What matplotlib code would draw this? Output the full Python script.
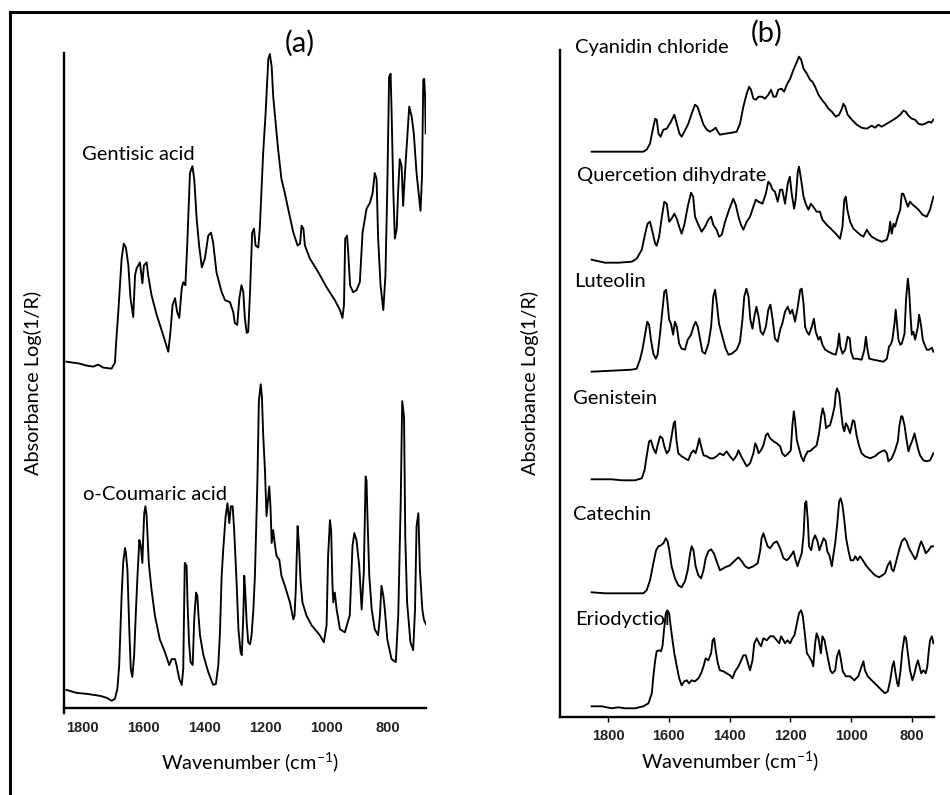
import matplotlib
matplotlib.use('Agg')
import matplotlib.pyplot as plt
from matplotlib.lines import Line2D

plt.rcParams['font.family'] = ['Lato', 'DejaVu Sans']

# ---- panel (a): wavenumber (cm-1) and relative absorbance ----
gentisic_wn = [1854, 1810, 1788, 1766, 1750, 1733, 1706, 1695, 1690, 1684, 1673, 1666, 1659, 1651,
               1644, 1635, 1629, 1624, 1613, 1605, 1600, 1591, 1586, 1575, 1558, 1537, 1520, 1513,
               1506, 1498, 1491, 1484, 1476, 1471, 1464, 1458, 1449, 1441, 1435, 1427, 1419, 1410,
               1400, 1389, 1380, 1373, 1362, 1345, 1334, 1318, 1307, 1302, 1294, 1287, 1280, 1274,
               1269, 1263, 1258, 1252, 1245, 1239, 1234, 1225, 1220, 1209, 1201, 1192, 1187, 1181,
               1176, 1168, 1160, 1149, 1138, 1127, 1110, 1096, 1088, 1083, 1077, 1072, 1056, 1028,
               1001, 974, 957, 949, 944, 940, 934, 930, 924, 914, 903, 892, 883, 870, 859, 850, 843,
               837, 832, 824, 815, 808, 802, 796, 791, 788, 782, 777, 771, 766, 761, 755, 750, 744,
               739, 730, 722, 715, 706, 697, 693, 688, 684, 681, 678, 676]
gentisic_abs = [0.03, 0.01, -0.01, -0.02, 0.0, -0.03, -0.04, 0.02, 0.27, 0.53, 1.07, 1.22, 1.18, 1.00,
                0.67, 0.48, 0.90, 0.97, 1.03, 0.82, 1.00, 1.03, 0.90, 0.70, 0.50, 0.30, 0.13, 0.33,
                0.60, 0.67, 0.53, 0.47, 0.77, 0.83, 0.80, 1.20, 1.93, 2.00, 1.87, 1.47, 1.20, 0.98,
                1.07, 1.30, 1.33, 1.23, 0.93, 0.73, 0.65, 0.63, 0.53, 0.42, 0.40, 0.67, 0.80, 0.73,
                0.47, 0.32, 0.33, 0.73, 1.33, 1.37, 1.20, 1.18, 1.37, 2.13, 2.53, 3.08, 3.13, 3.00,
                2.70, 2.43, 2.17, 1.87, 1.73, 1.57, 1.33, 1.20, 1.22, 1.40, 1.37, 1.20, 1.07, 0.93,
                0.78, 0.65, 0.55, 0.47, 0.60, 1.27, 1.30, 1.13, 0.80, 0.73, 0.75, 0.83, 1.33, 1.57,
                1.63, 1.73, 1.93, 1.87, 1.27, 0.80, 0.55, 0.90, 1.77, 2.90, 2.93, 2.57, 1.73, 1.27,
                1.37, 1.77, 2.07, 2.00, 1.60, 1.93, 2.17, 2.60, 2.50, 2.33, 1.93, 1.67, 1.55, 1.90,
                2.87, 2.88, 2.70, 2.33]

coumaric_wn = [1854, 1821, 1788, 1766, 1744, 1722, 1706, 1695, 1687, 1681, 1673, 1668, 1662, 1659,
               1654, 1648, 1643, 1638, 1632, 1626, 1621, 1615, 1610, 1605, 1602, 1599, 1595, 1591,
               1584, 1575, 1564, 1548, 1531, 1517, 1509, 1498, 1493, 1484, 1476, 1471, 1466, 1460,
               1457, 1452, 1447, 1440, 1435, 1429, 1425, 1421, 1416, 1405, 1389, 1373, 1364, 1356,
               1351, 1345, 1340, 1332, 1326, 1320, 1315, 1309, 1304, 1296, 1290, 1283, 1279, 1274,
               1271, 1268, 1263, 1258, 1252, 1247, 1241, 1236, 1228, 1223, 1217, 1213, 1209, 1203,
               1198, 1192, 1189, 1185, 1181, 1176, 1170, 1165, 1156, 1149, 1138, 1121, 1110, 1106,
               1102, 1096, 1092, 1086, 1080, 1067, 1050, 1039, 1023, 1010, 1001, 996, 990, 986, 982,
               979, 974, 968, 957, 941, 925, 916, 910, 903, 894, 886, 879, 873, 870, 867, 861, 853,
               843, 832, 826, 821, 815, 810, 802, 788, 774, 766, 758, 753, 747, 743, 737, 726, 717,
               711, 706, 700, 695, 687, 682, 675]
coumaric_abs = [0.02, -0.01, -0.02, -0.03, -0.04, -0.06, -0.09, -0.07, 0.03, 0.27, 0.97, 1.30, 1.45,
                1.40, 1.23, 0.63, 0.23, 0.15, 0.37, 0.83, 1.17, 1.53, 1.47, 1.30, 1.57, 1.80, 1.87,
                1.77, 1.30, 1.03, 0.77, 0.53, 0.40, 0.27, 0.33, 0.33, 0.27, 0.13, 0.07, 0.23, 1.30,
                1.27, 0.90, 0.50, 0.30, 0.27, 0.73, 1.00, 0.97, 0.77, 0.57, 0.37, 0.20, 0.07, 0.08,
                0.27, 0.57, 1.17, 1.43, 1.77, 1.90, 1.70, 1.87, 1.87, 1.63, 1.10, 0.63, 0.40, 0.37,
                0.77, 1.17, 1.03, 0.70, 0.50, 0.48, 0.57, 0.83, 1.17, 2.10, 2.93, 3.10, 2.97, 2.60,
                2.23, 1.77, 1.97, 2.07, 1.87, 1.50, 1.63, 1.47, 1.37, 1.33, 1.17, 1.07, 0.90, 0.73,
                0.77, 1.03, 1.67, 1.50, 1.10, 0.90, 0.77, 0.67, 0.63, 0.57, 0.50, 0.67, 1.37, 1.73,
                1.63, 1.10, 0.90, 1.00, 0.83, 0.63, 0.60, 0.77, 1.47, 1.60, 1.53, 1.27, 0.83, 1.20,
                2.17, 2.13, 1.77, 1.17, 0.83, 0.63, 0.57, 0.77, 1.07, 0.97, 0.83, 0.53, 0.33, 0.30,
                0.77, 1.90, 2.93, 2.77, 1.57, 0.90, 0.50, 0.42, 0.83, 1.67, 1.80, 1.23, 0.83, 0.73,
                0.68]

# ---- panel (b) ----
cyanidin_wn = [1854, 1766, 1684, 1673, 1662, 1653, 1645, 1640, 1634, 1627, 1618, 1607, 1593, 1582,
               1574, 1565, 1558, 1549, 1536, 1525, 1514, 1506, 1497, 1486, 1475, 1465, 1454, 1446,
               1439, 1432, 1415, 1393, 1377, 1366, 1355, 1344, 1336, 1330, 1322, 1314, 1305, 1294,
               1284, 1273, 1264, 1256, 1248, 1240, 1229, 1221, 1212, 1201, 1190, 1179, 1172, 1165,
               1157, 1146, 1136, 1128, 1119, 1108, 1097, 1086, 1075, 1064, 1051, 1040, 1031, 1026,
               1020, 1012, 998, 982, 966, 949, 933, 922, 911, 900, 889, 872, 856, 839, 829, 821,
               812, 801, 790, 779, 768, 757, 746, 737, 730]
cyanidin_abs = [0, 0, 0, 0.02, 0.08, 0.22, 0.33, 0.32, 0.18, 0.15, 0.22, 0.23, 0.30, 0.37, 0.28,
                0.18, 0.15, 0.20, 0.28, 0.38, 0.47, 0.45, 0.37, 0.27, 0.22, 0.20, 0.22, 0.24, 0.20,
                0.17, 0.18, 0.19, 0.20, 0.28, 0.45, 0.58, 0.65, 0.62, 0.53, 0.52, 0.55, 0.55, 0.53,
                0.57, 0.62, 0.55, 0.55, 0.62, 0.63, 0.60, 0.67, 0.73, 0.82, 0.90, 0.95, 0.92, 0.83,
                0.78, 0.72, 0.70, 0.65, 0.57, 0.52, 0.48, 0.43, 0.40, 0.35, 0.37, 0.43, 0.48, 0.45,
                0.37, 0.32, 0.27, 0.24, 0.23, 0.26, 0.24, 0.27, 0.25, 0.27, 0.30, 0.33, 0.37, 0.41,
                0.40, 0.36, 0.33, 0.32, 0.28, 0.27, 0.28, 0.30, 0.29, 0.32]

quercetin_wn = [1854, 1810, 1766, 1722, 1706, 1689, 1678, 1670, 1662, 1654, 1645, 1640, 1632, 1623,
                1615, 1607, 1599, 1591, 1582, 1574, 1566, 1558, 1549, 1538, 1527, 1520, 1514, 1503,
                1492, 1481, 1470, 1461, 1454, 1443, 1435, 1426, 1415, 1402, 1388, 1380, 1371, 1363,
                1355, 1344, 1333, 1322, 1314, 1305, 1292, 1281, 1273, 1267, 1259, 1251, 1242, 1234,
                1227, 1218, 1209, 1202, 1196, 1188, 1183, 1176, 1172, 1165, 1157, 1150, 1141, 1133,
                1125, 1114, 1103, 1095, 1081, 1064, 1048, 1037, 1029, 1023, 1018, 1013, 1004, 993,
                982, 971, 960, 949, 941, 933, 916, 900, 883, 876, 872, 867, 861, 856, 847, 839, 834,
                829, 823, 814, 807, 798, 790, 779, 766, 752, 741, 730]
quercetin_abs = [0.02, -0.01, -0.01, 0, 0.03, 0.12, 0.28, 0.38, 0.40, 0.30, 0.18, 0.16, 0.25, 0.45,
                 0.60, 0.58, 0.40, 0.43, 0.48, 0.43, 0.35, 0.28, 0.37, 0.55, 0.69, 0.65, 0.45, 0.37,
                 0.30, 0.35, 0.42, 0.45, 0.37, 0.32, 0.25, 0.27, 0.40, 0.52, 0.63, 0.57, 0.45, 0.37,
                 0.32, 0.40, 0.45, 0.55, 0.62, 0.60, 0.58, 0.68, 0.80, 0.78, 0.72, 0.70, 0.60, 0.72,
                 0.72, 0.58, 0.78, 0.85, 0.68, 0.53, 0.62, 0.90, 0.95, 0.82, 0.65, 0.58, 0.52, 0.58,
                 0.55, 0.50, 0.50, 0.42, 0.37, 0.32, 0.27, 0.23, 0.35, 0.62, 0.65, 0.52, 0.40, 0.33,
                 0.30, 0.27, 0.25, 0.32, 0.28, 0.25, 0.22, 0.20, 0.22, 0.30, 0.40, 0.28, 0.38, 0.35,
                 0.45, 0.52, 0.68, 0.68, 0.63, 0.55, 0.60, 0.57, 0.55, 0.52, 0.47, 0.45, 0.52, 0.65]

luteolin_wn = [1854, 1788, 1722, 1706, 1695, 1687, 1678, 1671, 1665, 1659, 1651, 1643, 1637, 1629,
               1621, 1615, 1609, 1604, 1599, 1593, 1586, 1580, 1574, 1566, 1558, 1547, 1538, 1527,
               1519, 1512, 1505, 1497, 1490, 1481, 1470, 1461, 1454, 1448, 1443, 1435, 1424, 1413,
               1404, 1393, 1377, 1366, 1358, 1352, 1345, 1338, 1332, 1325, 1319, 1312, 1305, 1298,
               1290, 1281, 1273, 1266, 1259, 1251, 1242, 1234, 1227, 1218, 1209, 1201, 1194, 1185,
               1176, 1168, 1163, 1157, 1152, 1146, 1139, 1130, 1123, 1117, 1108, 1102, 1095, 1086,
               1075, 1062, 1051, 1045, 1040, 1036, 1029, 1020, 1012, 1005, 1001, 993, 982, 966, 957,
               952, 947, 941, 927, 911, 894, 883, 876, 869, 865, 858, 854, 849, 845, 839, 834, 825,
               820, 814, 810, 805, 801, 796, 790, 781, 777, 770, 765, 759, 752, 744, 735, 730]
luteolin_abs = [0, 0.01, 0.02, 0.03, 0.12, 0.22, 0.38, 0.50, 0.47, 0.32, 0.18, 0.13, 0.17, 0.38,
                0.62, 0.80, 0.82, 0.68, 0.52, 0.48, 0.37, 0.50, 0.45, 0.28, 0.23, 0.22, 0.32, 0.37,
                0.45, 0.50, 0.45, 0.32, 0.20, 0.18, 0.28, 0.45, 0.75, 0.82, 0.70, 0.48, 0.35, 0.23,
                0.17, 0.18, 0.22, 0.30, 0.52, 0.75, 0.83, 0.75, 0.52, 0.43, 0.55, 0.65, 0.55, 0.40,
                0.37, 0.45, 0.62, 0.67, 0.53, 0.33, 0.30, 0.42, 0.48, 0.60, 0.65, 0.58, 0.62, 0.50,
                0.65, 0.82, 0.83, 0.68, 0.45, 0.40, 0.37, 0.45, 0.53, 0.40, 0.32, 0.35, 0.27, 0.22,
                0.20, 0.18, 0.17, 0.25, 0.38, 0.25, 0.18, 0.22, 0.35, 0.33, 0.20, 0.13, 0.13, 0.12,
                0.22, 0.35, 0.23, 0.13, 0.12, 0.11, 0.10, 0.13, 0.25, 0.28, 0.32, 0.48, 0.62, 0.45,
                0.32, 0.27, 0.28, 0.38, 0.72, 0.93, 0.82, 0.55, 0.37, 0.40, 0.32, 0.45, 0.57, 0.45,
                0.32, 0.27, 0.22, 0.22, 0.24, 0.20]

genistein_wn = [1854, 1788, 1755, 1711, 1689, 1680, 1673, 1665, 1659, 1651, 1643, 1637, 1629, 1621,
                1615, 1607, 1599, 1591, 1584, 1580, 1575, 1569, 1558, 1547, 1536, 1527, 1519, 1512,
                1505, 1500, 1494, 1486, 1475, 1464, 1454, 1443, 1432, 1421, 1410, 1399, 1388, 1377,
                1371, 1364, 1355, 1344, 1333, 1322, 1316, 1311, 1305, 1297, 1289, 1281, 1275, 1267,
                1256, 1245, 1234, 1227, 1218, 1207, 1199, 1194, 1189, 1185, 1179, 1172, 1165, 1157,
                1152, 1143, 1136, 1125, 1114, 1106, 1099, 1094, 1088, 1083, 1077, 1070, 1062, 1055,
                1051, 1047, 1040, 1034, 1028, 1023, 1018, 1012, 1004, 995, 990, 982, 974, 966, 955,
                938, 922, 911, 900, 891, 883, 878, 867, 856, 847, 842, 836, 832, 825, 818, 812, 807,
                799, 792, 787, 781, 774, 763, 752, 741, 730]
genistein_abs = [0, 0, -0.01, -0.01, 0.01, 0.09, 0.23, 0.38, 0.39, 0.31, 0.26, 0.34, 0.43, 0.41,
                 0.33, 0.26, 0.29, 0.43, 0.56, 0.58, 0.39, 0.26, 0.23, 0.21, 0.19, 0.26, 0.29, 0.26,
                 0.34, 0.41, 0.33, 0.24, 0.23, 0.21, 0.21, 0.23, 0.26, 0.24, 0.28, 0.23, 0.19, 0.24,
                 0.29, 0.24, 0.19, 0.13, 0.16, 0.26, 0.36, 0.33, 0.26, 0.29, 0.34, 0.44, 0.46, 0.41,
                 0.38, 0.36, 0.33, 0.26, 0.23, 0.26, 0.29, 0.53, 0.68, 0.59, 0.39, 0.31, 0.23, 0.18,
                 0.23, 0.28, 0.28, 0.31, 0.34, 0.46, 0.63, 0.71, 0.64, 0.51, 0.53, 0.54, 0.63, 0.73,
                 0.86, 0.91, 0.86, 0.69, 0.53, 0.48, 0.56, 0.53, 0.46, 0.59, 0.58, 0.43, 0.33, 0.26,
                 0.23, 0.21, 0.23, 0.26, 0.28, 0.29, 0.26, 0.18, 0.21, 0.29, 0.38, 0.53, 0.63, 0.63,
                 0.54, 0.39, 0.28, 0.33, 0.39, 0.46, 0.39, 0.31, 0.24, 0.19, 0.18, 0.19, 0.26]

catechin_wn = [1854, 1810, 1766, 1722, 1684, 1673, 1662, 1651, 1642, 1634, 1626, 1618, 1610, 1604,
               1598, 1591, 1580, 1569, 1558, 1547, 1538, 1530, 1525, 1519, 1512, 1503, 1494, 1486,
               1479, 1470, 1461, 1452, 1443, 1432, 1415, 1399, 1382, 1371, 1360, 1349, 1338, 1322,
               1308, 1300, 1295, 1289, 1284, 1275, 1267, 1256, 1245, 1234, 1223, 1212, 1205, 1198,
               1190, 1183, 1177, 1171, 1163, 1157, 1152, 1148, 1143, 1139, 1132, 1126, 1119, 1111,
               1105, 1097, 1091, 1084, 1079, 1072, 1064, 1059, 1053, 1046, 1040, 1035, 1029, 1023,
               1017, 1009, 1002, 993, 987, 979, 971, 962, 952, 938, 922, 909, 898, 889, 880, 872,
               867, 861, 854, 843, 834, 825, 818, 810, 801, 790, 785, 776, 770, 763, 755, 746, 737,
               730]
catechin_abs = [0.01, 0, 0, 0, 0, 0.03, 0.13, 0.30, 0.43, 0.47, 0.48, 0.50, 0.55, 0.52, 0.42, 0.27,
                0.15, 0.08, 0.06, 0.12, 0.23, 0.40, 0.47, 0.43, 0.27, 0.18, 0.15, 0.23, 0.35, 0.42,
                0.44, 0.40, 0.32, 0.23, 0.26, 0.28, 0.33, 0.36, 0.32, 0.27, 0.25, 0.27, 0.30, 0.42,
                0.55, 0.60, 0.55, 0.47, 0.45, 0.50, 0.52, 0.45, 0.35, 0.33, 0.35, 0.38, 0.42, 0.33,
                0.27, 0.33, 0.40, 0.58, 0.90, 0.92, 0.73, 0.47, 0.43, 0.53, 0.58, 0.52, 0.43, 0.50,
                0.55, 0.52, 0.42, 0.38, 0.27, 0.38, 0.50, 0.70, 0.92, 0.95, 0.88, 0.73, 0.55, 0.42,
                0.33, 0.33, 0.37, 0.33, 0.37, 0.33, 0.28, 0.23, 0.18, 0.16, 0.18, 0.20, 0.28, 0.32,
                0.24, 0.22, 0.30, 0.43, 0.52, 0.55, 0.52, 0.45, 0.40, 0.34, 0.37, 0.47, 0.52, 0.47,
                0.40, 0.43, 0.47, 0.47]

eriodyctiol_wn = [1854, 1821, 1788, 1766, 1744, 1711, 1684, 1667, 1656, 1651, 1645, 1640, 1632,
                  1626, 1621, 1616, 1610, 1605, 1599, 1594, 1588, 1582, 1574, 1566, 1558, 1549,
                  1541, 1534, 1525, 1514, 1503, 1494, 1486, 1479, 1470, 1461, 1456, 1451, 1446,
                  1439, 1432, 1421, 1410, 1399, 1391, 1382, 1371, 1362, 1355, 1347, 1338, 1333,
                  1325, 1319, 1311, 1303, 1297, 1289, 1278, 1267, 1256, 1245, 1237, 1231, 1223,
                  1218, 1210, 1201, 1194, 1187, 1179, 1172, 1165, 1160, 1154, 1146, 1139, 1130,
                  1125, 1119, 1114, 1108, 1100, 1095, 1088, 1082, 1075, 1069, 1062, 1053, 1047,
                  1040, 1035, 1028, 1018, 1004, 990, 977, 966, 960, 955, 946, 933, 916, 900, 889,
                  880, 872, 865, 860, 856, 849, 845, 838, 832, 825, 820, 814, 807, 799, 792, 787,
                  781, 776, 770, 763, 755, 750, 746, 741, 735, 730]
eriodyctiol_abs = [0.01, 0.01, -0.01, 0, -0.01, -0.01, 0.01, 0.04, 0.14, 0.31, 0.47, 0.56, 0.57,
                   0.56, 0.61, 0.77, 0.94, 0.97, 0.94, 0.81, 0.67, 0.54, 0.41, 0.29, 0.22, 0.26,
                   0.27, 0.24, 0.27, 0.26, 0.29, 0.34, 0.41, 0.49, 0.47, 0.54, 0.67, 0.69, 0.57,
                   0.44, 0.37, 0.36, 0.34, 0.32, 0.29, 0.36, 0.41, 0.47, 0.52, 0.52, 0.42, 0.37,
                   0.47, 0.64, 0.69, 0.64, 0.61, 0.69, 0.67, 0.71, 0.71, 0.67, 0.64, 0.71, 0.67,
                   0.64, 0.67, 0.64, 0.69, 0.72, 0.84, 0.94, 0.97, 0.92, 0.77, 0.54, 0.51, 0.46,
                   0.41, 0.64, 0.74, 0.69, 0.54, 0.71, 0.67, 0.57, 0.46, 0.37, 0.34, 0.37, 0.51,
                   0.57, 0.49, 0.36, 0.31, 0.31, 0.27, 0.31, 0.41, 0.46, 0.37, 0.31, 0.27, 0.22,
                   0.17, 0.14, 0.16, 0.27, 0.41, 0.46, 0.37, 0.24, 0.21, 0.37, 0.57, 0.71, 0.69,
                   0.54, 0.37, 0.27, 0.34, 0.41, 0.47, 0.41, 0.34, 0.37, 0.34, 0.41, 0.54, 0.67,
                   0.71, 0.64]

tick_values = [1800, 1600, 1400, 1200, 1000, 800]

# stacking offsets (plot units) and name label positions (pixels)
SPECTRA_A = [('Gentisic acid', gentisic_wn, gentisic_abs, 3.46, (82, 154)),
             ('o-Coumaric acid', coumaric_wn, coumaric_abs, 0.163, (83, 495))]
SPECTRA_B = [('Cyanidin chloride', cyanidin_wn, cyanidin_abs, 5.653, (575, 48)),
             ('Quercetion dihydrate', quercetin_wn, quercetin_abs, 4.553, (577, 175)),
             ('Luteolin', luteolin_wn, luteolin_abs, 3.453, (574, 282)),
             ('Genistein', genistein_wn, genistein_abs, 2.377, (573, 398)),
             ('Catechin', catechin_wn, catechin_abs, 1.237, (573, 515)),
             ('Eriodyctiol', eriodyctiol_wn, eriodyctiol_abs, 0.097, (575, 620))]

W, H = 950, 795
fig = plt.figure(figsize=(W / 100, H / 100), dpi=100)

def fx(x):
    return x / W

def fy(y):
    return 1 - y / H

def make_axes(left, right, top, bottom, xlim, ylim, ticklen):
    ax = fig.add_axes([fx(left), fy(bottom), fx(right - left), (bottom - top) / H])
    ax.set_xlim(*xlim)
    ax.set_ylim(*ylim)
    for s in ['top', 'right']:
        ax.spines[s].set_visible(False)
    ax.spines['left'].set_linewidth(1.7)
    ax.spines['bottom'].set_linewidth(1.7)
    ax.spines['bottom'].set_position(('data', 0))
    ax.set_yticks([])
    ax.set_xticks(tick_values)
    ax.tick_params(axis='x', length=ticklen, width=1, pad=9 - ticklen, labelsize=10.5)
    for lab in ax.get_xticklabels():
        lab.set_fontfamily('Liberation Sans')
        lab.set_fontweight('bold')
        lab.set_color('#222222')
    ax.patch.set_alpha(0)
    return ax

# panel (a)
ax_a = make_axes(64, 426, 53, 713, (1862, 675), (-0.05, 6.6), 0)
for name, wn, ab, off, (lx, ly) in SPECTRA_A:
    ax_a.plot(wn, [v + off for v in ab], color='black', lw=1.35)
    fig.text(fx(lx), fy(ly), name, fontsize=14.5, ha='left', va='center')

# panel (b)
ax_b = make_axes(560, 934, 50, 717, (1958, 728), (0, 6.67), 3.5)
for name, wn, ab, off, (lx, ly) in SPECTRA_B:
    ax_b.plot(wn, [v + off for v in ab], color='black', lw=1.35)
    fig.text(fx(lx), fy(ly), name, fontsize=14.5, ha='left', va='center')

fig.text(fx(300), fy(43), '(a)', fontsize=21, ha='center', va='center')
fig.text(fx(767), fy(33), '(b)', fontsize=21, ha='center', va='center')

xlab = 'Wavenumber (cm$^{\\mathregular{-1}}$)'
fig.text(fx(250), fy(763), xlab, fontsize=14.3, ha='center', va='center')
fig.text(fx(730), fy(762), xlab, fontsize=14.3, ha='center', va='center')
fig.text(fx(33), fy(383), 'Absorbance Log(1/R)', fontsize=14.3, rotation=90,
         ha='center', va='center')
fig.text(fx(530), fy(383), 'Absorbance Log(1/R)', fontsize=14.3, rotation=90,
         ha='center', va='center')

# frame lines along top and left edge of the figure
fig.add_artist(Line2D([fx(10), 1], [fy(12), fy(12)], color='black', lw=2.2))
fig.add_artist(Line2D([fx(10), fx(10)], [fy(12), 0], color='black', lw=2.2))

fig.savefig('out.png', dpi=100)
